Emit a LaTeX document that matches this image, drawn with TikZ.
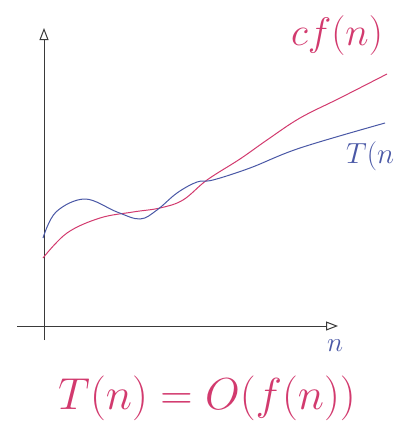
\documentclass[tikz,border=0pt]{standalone}
\usepackage{graphicx}
\usetikzlibrary{arrows.meta}
\definecolor{pinkc}{HTML}{D23A6E}
\definecolor{bluec}{HTML}{4A58A6}
\definecolor{axisc}{HTML}{3A3A3A}
\begin{document}
\begin{tikzpicture}[x=1pt,y=-1pt,
  axis/.style={draw=axisc,line width=1pt,-{Triangle[open,length=12pt,width=9pt]}},
  curvef/.style={draw=pinkc,line width=1pt},
  curvet/.style={draw=bluec,line width=1pt},
  lab/.style={inner sep=0pt,anchor=center}]
\useasboundingbox (0,0) rectangle (406,426);
% axes
\coordinate (ybot) at (44,340);
\coordinate (ytop) at (44,28);
\coordinate (xleft) at (17,326);
\coordinate (xright) at (338,326);
\draw[axis] (ybot) -- (ytop);
\draw[axis] (xleft) -- (xright);
% cf(n)
\draw[curvef] plot[smooth,tension=0.6] coordinates {(43,258) (67,233) (100,218) (133,212) (160,208) (183,200) (207,180) (240,159) (267,140) (300,118) (340,98) (387,74)};
% T(n)
\draw[curvet] plot[smooth,tension=0.6] coordinates {(43,238) (56,212) (85,199) (117,212) (140,219) (157,210) (177,193) (197,182) (213,180) (250,168) (300,148) (385,123)};
% labels
\node[lab,text=pinkc] (cf) at (337,36) {\scalebox{1.6}{\Huge$cf(n)$}};
\node[lab,text=bluec,anchor=west] (tn) at (346,156) {\scalebox{1.17}{\Huge$T(n$}};
\node[lab,text=bluec] (nl) at (335,346) {\scalebox{1.1}{\Huge$n$}};
\node[lab,text=pinkc] (eq) at (207,398) {\scalebox{1.8}{\Huge$T(n)=O(f(n))$}};
\end{tikzpicture}
\end{document}
